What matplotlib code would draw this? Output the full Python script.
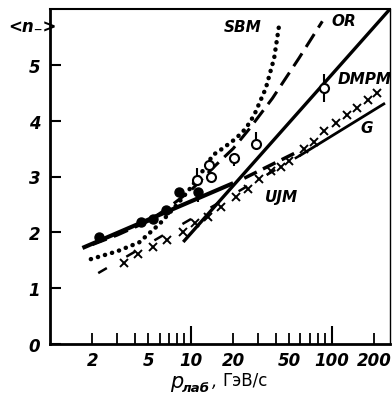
import matplotlib
matplotlib.use("Agg")
import matplotlib.pyplot as plt

plt.rcParams['font.family'] = ['DejaVu Sans']
plt.rcParams['font.style'] = 'italic'

# model curves (p_lab in GeV/c, <n_>)
sbm_p = [1.95, 3.0, 4.3, 6.0, 8.0, 10.0, 12.8, 14.3, 16.8, 20.9, 24.6, 28.2, 34.1, 39.1, 42.4]
sbm_n = [1.52, 1.66, 1.82, 2.15, 2.5, 2.8, 3.18, 3.38, 3.5, 3.68, 3.86, 4.1, 4.58, 5.12, 5.71]

or_p = [2.0, 3.0, 5.0, 7.0, 10.0, 15.0, 20.0, 26.0, 38.0, 58.7, 86.0]
or_n = [1.78, 1.95, 2.2, 2.45, 2.75, 3.2, 3.5, 3.85, 4.4, 5.12, 5.78]

ujm_p = [1.7, 20.0]
ujm_n = [1.72, 2.88]
ujm_tail_p = [24.0, 55.0]
ujm_tail_n = [2.97, 3.42]

dmpm_p = [9.0, 260.0]
dmpm_n = [1.85, 6.0]

g_p = [2.2, 60.0]
g_n = [1.27, 3.38]
g_tail_p = [60.0, 235.0]
g_tail_n = [3.38, 4.3]

# data points
cross_p = [3.37, 4.2, 5.36, 6.73, 8.75, 10.8, 13.2, 16.4, 20.9, 25.3, 30.6, 37.0,
           43.6, 50.0, 63.8, 75.0, 88.5, 107, 129, 152, 182, 211]
cross_n = [1.45, 1.62, 1.74, 1.87, 2.01, 2.16, 2.27, 2.45, 2.63, 2.78, 2.96, 3.09,
           3.17, 3.28, 3.49, 3.62, 3.81, 3.95, 4.10, 4.23, 4.37, 4.49]

filled_p = [2.24, 4.43, 5.36, 6.67, 8.29, 11.2]
filled_n = [1.91, 2.18, 2.23, 2.40, 2.72, 2.73]
filled_lo = [0, 0, 0, 0, 0, 0.18]
filled_hi = [0, 0, 0, 0, 0, 0]

open_p = [11.0, 13.5, 13.9, 20.3, 29.0, 88.0]
open_n = [2.93, 3.2, 3.0, 3.33, 3.58, 4.58]
open_lo = [0, 0, 0, 0.15, 0, 0.25]
open_hi = [0.22, 0, 0, 0, 0.22, 0.25]

fig = plt.figure(figsize=(3.92, 4.02), dpi=100)
ax = fig.add_axes([50 / 392, 1 - 345 / 402, 340 / 392, 335 / 402])
ax.set_xscale('log')
ax.set_xlim(1.0, 260)
ax.set_ylim(0, 6.0)

k = 'black'
ax.plot(sbm_p, sbm_n, color=k, lw=3.2, linestyle=(0, (0.05, 1.6)),
        dash_capstyle='round')
ax.plot(or_p, or_n, color=k, lw=2.2, linestyle=(0, (5, 2.5)))
ax.plot(ujm_p, ujm_n, color=k, lw=3.0, solid_capstyle='butt')
ax.plot(ujm_tail_p, ujm_tail_n, color=k, lw=2.5, linestyle=(0, (4, 2)))
ax.plot(dmpm_p, dmpm_n, color=k, lw=2.4)
ax.plot(g_p, g_n, color=k, lw=1.8, linestyle=(0, (4, 9)))
ax.plot(g_tail_p, g_tail_n, color=k, lw=2.0)

ax.plot(cross_p, cross_n, 'x', color=k, ms=6, mew=1.4)
ax.errorbar(filled_p, filled_n, yerr=[filled_lo, filled_hi], fmt='o', color=k,
            ms=6.5, elinewidth=1.5, capsize=0)
ax.errorbar(open_p, open_n, yerr=[open_lo, open_hi], fmt='o', mfc='white', mec=k,
            ecolor=k, ms=6.5, mew=1.5, elinewidth=1.5, capsize=0, zorder=4)

# labels on the curves
lab = dict(fontsize=11, fontweight='bold', ha='center', va='center')
ax.text(23.2, 5.69, 'SBM', **lab)
ax.text(122, 5.80, 'OR', **lab)
ax.text(172, 4.76, 'DMPM', **lab)
ax.text(178, 3.88, 'G', **lab)
ax.text(44, 2.64, 'UJM', **lab)

# axes styling
for s in ('left', 'bottom'):
    ax.spines[s].set_linewidth(2.0)
ax.spines['top'].set_linewidth(1.5)
ax.spines['right'].set_linewidth(1.0)

ax.set_yticks([0, 1, 2, 3, 4, 5])
ax.set_xticks([10, 100], ['10', '100'])
minor = [2, 3, 4, 5, 6, 7, 8, 9, 20, 30, 40, 50, 60, 70, 80, 90, 200]
minor_lab = ['2', '', '', '5', '', '', '', '', '20', '', '', '50', '', '', '', '', '200']
ax.set_xticks(minor, minor_lab, minor=True)
ax.tick_params(axis='x', which='major', direction='in', length=13, width=1.5,
               labelsize=12, pad=5)
ax.tick_params(axis='x', which='minor', direction='in', length=8, width=1.3,
               labelsize=12, pad=5)
ax.tick_params(axis='y', direction='in', length=8, width=1.5, labelsize=12, pad=7)
for t in ax.get_xticklabels(minor=True) + ax.get_xticklabels() + ax.get_yticklabels():
    t.set_fontweight('bold')

fig.text(32 / 392, 1 - 27 / 402, '<n\u208b>', fontsize=12, fontweight='bold',
         ha='center', va='center')

fig.text(170 / 392, 1 - 388 / 402, 'p', fontsize=15, ha='left', va='baseline')
fig.text(182 / 392, 1 - 392 / 402, 'лаб', fontsize=9.5, fontweight='bold',
         ha='left', va='baseline')
fig.text(212 / 392, 1 - 387 / 402, ',', fontsize=12, ha='left', va='baseline')
fig.text(222 / 392, 1 - 386 / 402, 'ГэВ/с', fontsize=12, style='normal',
         ha='left', va='baseline')

fig.savefig('out.png', dpi=100)
